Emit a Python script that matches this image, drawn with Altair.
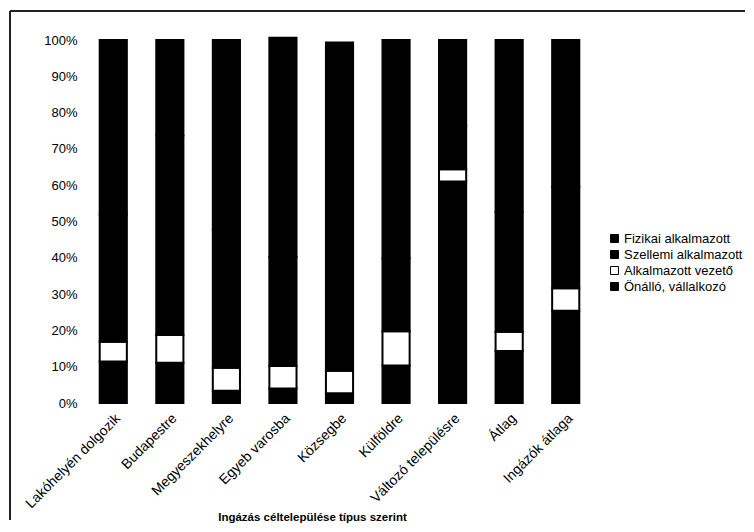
import altair as alt
import pandas as pd

categories = ["Lakóhelyén dolgozik", "Budapestre", "Megyeszekhelyre", "Egyeb varosba",
              "Közsegbe", "Külföldre", "Változó településre", "Átlag", "Ingázók átlaga"]
series = ["Fizikai alkalmazott", "Szellemi alkalmazott", "Alkalmazott vezető", "Önálló, vállalkozó"]

onallo = [11.4, 11.1, 3.4, 4.0, 2.7, 10.3, 61.0, 14.3, 25.4]
vezeto = [5.5, 7.6, 6.3, 6.2, 6.2, 9.5, 3.4, 5.3, 6.2]
szellemi = [35.0, 55.0, 38.0, 30.0, 22.0, 20.0, 12.0, 33.0, 28.0]
fizikai = [48.1, 26.3, 52.3, 60.4, 68.4, 60.2, 23.6, 47.4, 40.4]

y_ticks = [0, 10, 20, 30, 40, 50, 60, 70, 80, 90, 100]

rows = []
for i, c in enumerate(categories):
    for order, (s, vals) in enumerate([("Önálló, vállalkozó", onallo),
                                       ("Alkalmazott vezető", vezeto),
                                       ("Szellemi alkalmazott", szellemi),
                                       ("Fizikai alkalmazott", fizikai)]):
        rows.append({"cat": c, "series": s, "value": vals[i], "ord": order})
df = pd.DataFrame(rows)

FONT = "Liberation Sans"

bars = alt.Chart(df).mark_bar(stroke="black", strokeWidth=2).encode(
    x=alt.X("cat:N", sort=categories,
            scale=alt.Scale(paddingInner=0.52, paddingOuter=0.26),
            axis=alt.Axis(title="Ingázás céltelepülése típus szerint", labelAngle=-45,
                          domain=False, ticks=False, labelPadding=8,
                          labelFont=FONT, labelFontSize=14, labelColor="black",
                          titleFont=FONT, titleFontSize=11.5, titleFontWeight="bold",
                          titleColor="black", titleX=227, titleY=114,
                          titleAlign="center", titleBaseline="middle")),
    y=alt.Y("value:Q", stack="zero",
            scale=alt.Scale(domain=[0, 100], nice=False, clamp=False),
            axis=alt.Axis(title=None, values=y_ticks, labelExpr="datum.value + '%'",
                          domain=False, ticks=False, grid=False, labelPadding=8,
                          labelFont=FONT, labelFontSize=13, labelColor="black")),
    color=alt.Color("series:N", sort=series,
                    scale=alt.Scale(domain=series,
                                    range=["#000000", "#000000", "#ffffff", "#000000"]),
                    legend=alt.Legend(title=None, orient="none", legendX=523, legendY=192,
                                      symbolType="square", symbolSize=64,
                                      symbolStrokeColor="black", symbolStrokeWidth=1,
                                      symbolOpacity=1, labelLimit=300,
                                      labelFont=FONT, labelFontSize=13, labelColor="black",
                                      rowPadding=2, labelOffset=3)),
    order=alt.Order("ord:Q", sort="ascending"),
)

frame_left = alt.Chart(df).mark_rule(color="#222", strokeWidth=1.5).encode(
    x=alt.value(-75), y=alt.value(-29), y2=alt.value(480))
frame_top = alt.Chart(df).mark_rule(color="#222", strokeWidth=1.5).encode(
    x=alt.value(-75), x2=alt.value(660), y=alt.value(-29))

chart = alt.layer(frame_left, frame_top, bars).properties(
    width=509, height=363,
    autosize=alt.AutoSizeParams(type="none"),
    padding={"left": 77, "top": 32, "right": 152, "bottom": 121},
).configure(font=FONT).configure_view(stroke=None)

chart.save("out.html", embed_options={"renderer": "svg", "actions": False})
